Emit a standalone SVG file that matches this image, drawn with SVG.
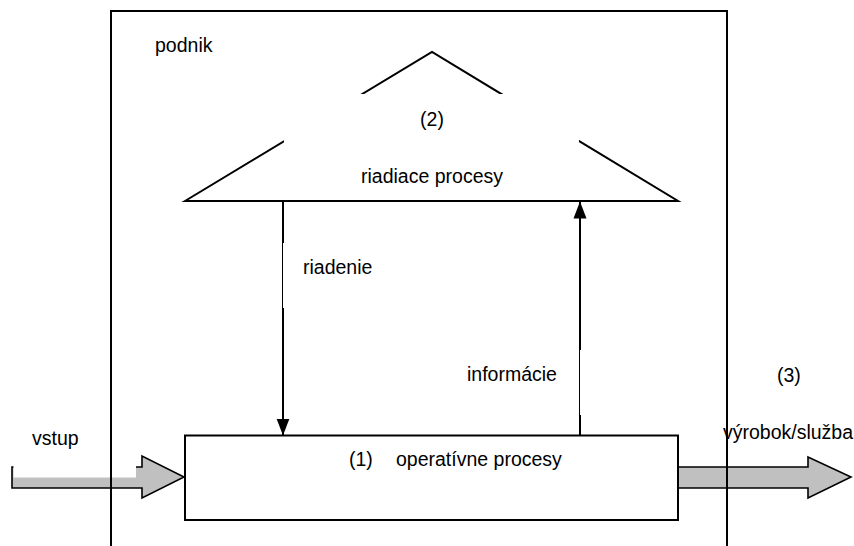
<svg xmlns="http://www.w3.org/2000/svg" width="854" height="546" viewBox="0 0 854 546">
<style>
text{font-family:"Liberation Sans",Arial,sans-serif;font-size:19.5px;fill:#000}
.ln{stroke:#000;fill:none}
.big{fill:#c0c0c0;stroke:#000;stroke-width:1.6}
</style>
<defs>
<marker id="ah" viewBox="0 0 17 14" refX="16.5" refY="7" markerWidth="17" markerHeight="14" markerUnits="userSpaceOnUse" orient="auto"><path d="M0,0.5 L17,7 L0,13.5 Z" fill="#000"/></marker>
</defs>
<rect width="854" height="546" fill="#fff"/>
<g id="riadiace">
<polygon points="185,201 432,52 678,201" class="ln" stroke-width="2" fill="#fff"/>
<rect x="284" y="94" width="295" height="106" fill="#fff"/>
<line x1="283" y1="200.5" x2="580" y2="200.5" class="ln" stroke-width="1"/>
<text x="432" y="126" text-anchor="middle">(2)</text>
<text x="432" y="183" text-anchor="middle">riadiace procesy</text>
</g>
<g id="input-arrow">
<polygon points="12,467 142,467 142,456 184,477 142,498 142,488 12,488" class="big"/>
<rect x="13.5" y="430" width="122.5" height="47.5" fill="#fff"/>
<text x="32" y="445">vstup</text>
</g>
<g id="output-arrow">
<polygon points="678,467 808,467 808,457 851,477 808,498 808,488 678,488" class="big"/>
</g>
<g id="operativne">
<rect x="185" y="435.5" width="493" height="84.5" class="ln" stroke-width="2" fill="#fff"/>
<text x="349" y="466">(1)</text>
<text x="396" y="466">operatívne procesy</text>
</g>
<g id="podnik">
<path d="M111,546 V11 H727 V546" class="ln" stroke-width="2"/>
<text x="155" y="52">podnik</text>
</g>
<g id="connectors">
<path d="M283,201 V243" class="ln" stroke-width="2"/>
<path d="M282.5,243 V308" class="ln" stroke-width="1"/>
<path d="M283,308 V435" class="ln" stroke-width="2" marker-end="url(#ah)"/>
<path d="M580,435 V415" class="ln" stroke-width="2"/>
<path d="M579.5,415 V350" class="ln" stroke-width="1"/>
<path d="M580,350 V202" class="ln" stroke-width="2" marker-end="url(#ah)"/>
</g>
<g id="labels">
<text x="303" y="274">riadenie</text>
<text x="467" y="381">informácie</text>
<text x="777" y="382">(3)</text>
<text x="723" y="439">výrobok/služba</text>
</g>
</svg>
